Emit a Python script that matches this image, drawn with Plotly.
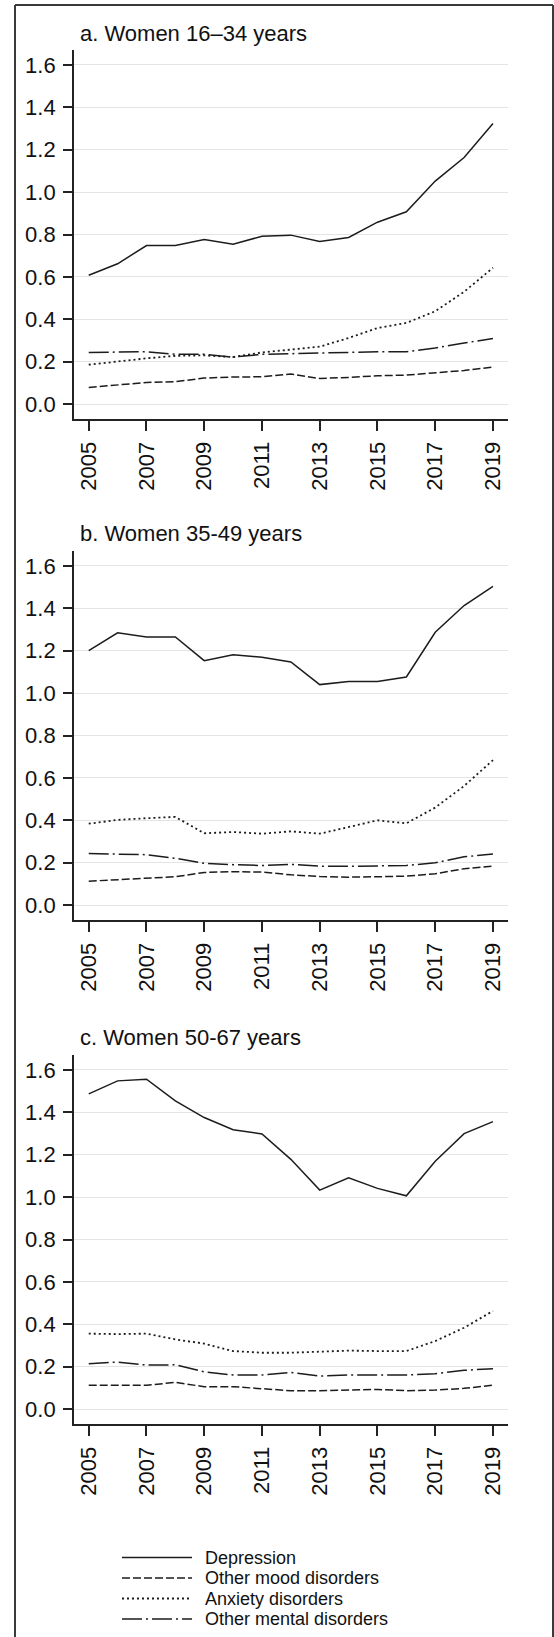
import plotly.graph_objects as go

# Years on the horizontal axis
years = list(range(2005, 2020))
year_ticks = [2005, 2007, 2009, 2011, 2013, 2015, 2017, 2019]
y_ticks = [0.0, 0.2, 0.4, 0.6, 0.8, 1.0, 1.2, 1.4, 1.6]

series_names = ["Depression", "Other mood disorders", "Anxiety disorders", "Other mental disorders"]
panel_titles = ["a. Women 16\u201334 years", "b. Women 35-49 years", "c. Women 50-67 years"]

# a. Women 16-34 years
a_depression = [0.608, 0.662, 0.748, 0.748, 0.776, 0.754, 0.792, 0.797, 0.767, 0.786, 0.858, 0.907, 1.052, 1.163, 1.323]
a_mood = [0.079, 0.091, 0.102, 0.106, 0.123, 0.128, 0.129, 0.142, 0.121, 0.126, 0.134, 0.137, 0.148, 0.159, 0.175]
a_anxiety = [0.186, 0.202, 0.216, 0.228, 0.230, 0.222, 0.244, 0.257, 0.271, 0.312, 0.359, 0.383, 0.438, 0.530, 0.643]
a_other = [0.244, 0.244, 0.247, 0.235, 0.235, 0.222, 0.235, 0.238, 0.241, 0.246, 0.247, 0.247, 0.265, 0.288, 0.310]

# b. Women 35-49 years
b_depression = [1.200, 1.284, 1.265, 1.265, 1.153, 1.181, 1.169, 1.147, 1.040, 1.055, 1.055, 1.076, 1.287, 1.413, 1.503]
b_mood = [0.113, 0.120, 0.128, 0.134, 0.154, 0.158, 0.156, 0.143, 0.135, 0.132, 0.134, 0.137, 0.148, 0.172, 0.184]
b_anxiety = [0.384, 0.402, 0.410, 0.416, 0.339, 0.345, 0.337, 0.348, 0.337, 0.369, 0.400, 0.386, 0.460, 0.562, 0.684]
b_other = [0.243, 0.241, 0.238, 0.221, 0.197, 0.191, 0.187, 0.192, 0.184, 0.183, 0.186, 0.187, 0.200, 0.228, 0.241]

# c. Women 50-67 years
c_depression = [1.487, 1.548, 1.556, 1.454, 1.375, 1.318, 1.298, 1.178, 1.033, 1.091, 1.041, 1.006, 1.169, 1.299, 1.356]
c_mood = [0.113, 0.113, 0.113, 0.126, 0.106, 0.106, 0.096, 0.087, 0.087, 0.091, 0.093, 0.087, 0.090, 0.098, 0.113]
c_anxiety = [0.356, 0.354, 0.356, 0.329, 0.309, 0.274, 0.266, 0.266, 0.271, 0.276, 0.274, 0.274, 0.321, 0.384, 0.463]
c_other = [0.214, 0.222, 0.208, 0.209, 0.176, 0.161, 0.161, 0.173, 0.156, 0.161, 0.161, 0.161, 0.167, 0.183, 0.191]

panels = [
    [a_depression, a_mood, a_anxiety, a_other],
    [b_depression, b_mood, b_anxiety, b_other],
    [c_depression, c_mood, c_anxiety, c_other],
]

W, H = 554, 1637
LINE_COLOR = "#1c1c1c"
dashes = ["solid", "8px,3px", "2px,3px", "20px,4px,2px,4px"]
widths = [1.5, 1.5, 1.8, 1.5]
FONT = "Liberation Sans, Arial, sans-serif"

def px_x(x):
    return x / W

def px_y(y):
    return 1 - y / H

# plot area geometry (pixels from top-left)
x_left, x_right = 74, 508
panel_tops = [50, 551, 1055]
panel_h = 369
title_y = [33, 533, 1037]

fig = go.Figure()
layout_axes = {}
for i, data in enumerate(panels):
    n = "" if i == 0 else str(i + 1)
    for name, vals, dash, w in zip(series_names, data, dashes, widths):
        fig.add_trace(go.Scatter(
            x=years, y=vals, mode="lines", name=name,
            line=dict(color=LINE_COLOR, width=w, dash=dash),
            xaxis="x" + n, yaxis="y" + n, showlegend=False,
        ))
    top = panel_tops[i]
    layout_axes["xaxis" + n] = dict(
        domain=[px_x(x_left), px_x(x_right)], anchor="y" + n,
        range=[2004.49, 2019.52], tickvals=year_ticks, ticktext=[str(t) for t in year_ticks],
        tickangle=-90, ticks="outside", ticklen=10, tickwidth=1.5, tickcolor="#222",
        showline=True, linecolor="#222", linewidth=1.8, showgrid=False, zeroline=False,
        ticklabelstandoff=2,
        tickfont=dict(family=FONT, size=22, color="#111"),
    )
    layout_axes["yaxis" + n] = dict(
        domain=[px_y(top + panel_h), px_y(top)], anchor="x" + n,
        range=[-0.07, 1.67], tickvals=y_ticks, ticktext=[f"{v:.1f}" for v in y_ticks],
        ticks="outside", ticklen=9, tickwidth=1.5, tickcolor="#222",
        showline=True, linecolor="#222", linewidth=1.8,
        showgrid=True, gridcolor="#e4e4e4", gridwidth=1, zeroline=False,
        ticklabelstandoff=3,
        tickfont=dict(family=FONT, size=22, color="#111"),
    )

annotations = []
for t, ty in zip(panel_titles, title_y):
    annotations.append(dict(
        text=t, x=px_x(78), y=px_y(ty), xref="paper", yref="paper",
        xanchor="left", yanchor="middle", showarrow=False,
        font=dict(family=FONT, size=22, color="#111"),
    ))

# legend drawn below the panels
shapes = []
legend_rows = [1557.5, 1578, 1598.5, 1619]
for name, dash, w, ry in zip(series_names, dashes, widths, legend_rows):
    shapes.append(dict(
        type="line", xref="paper", yref="paper",
        x0=px_x(122), x1=px_x(192), y0=px_y(ry), y1=px_y(ry),
        line=dict(color=LINE_COLOR, width=w, dash=dash),
    ))
    annotations.append(dict(
        text=name, x=px_x(203), y=px_y(ry), xref="paper", yref="paper",
        xanchor="left", yanchor="middle", showarrow=False,
        font=dict(family=FONT, size=18, color="#111"),
    ))

# outer frame (left, top, right edges)
frame = dict(color="#3a3a3a", width=2)
shapes.append(dict(type="line", xref="paper", yref="paper", x0=px_x(15), x1=px_x(15), y0=px_y(1640), y1=px_y(5), line=frame))
shapes.append(dict(type="line", xref="paper", yref="paper", x0=px_x(15), x1=px_x(553), y0=px_y(5), y1=px_y(5), line=frame))
shapes.append(dict(type="line", xref="paper", yref="paper", x0=px_x(553), x1=px_x(553), y0=px_y(1640), y1=px_y(5), line=frame))

fig.update_layout(
    width=W, height=H, margin=dict(l=0, r=0, t=0, b=0),
    paper_bgcolor="white", plot_bgcolor="white",
    showlegend=False, annotations=annotations, shapes=shapes,
    **layout_axes,
)

fig.write_html("out.html", config={"displayModeBar": False})
